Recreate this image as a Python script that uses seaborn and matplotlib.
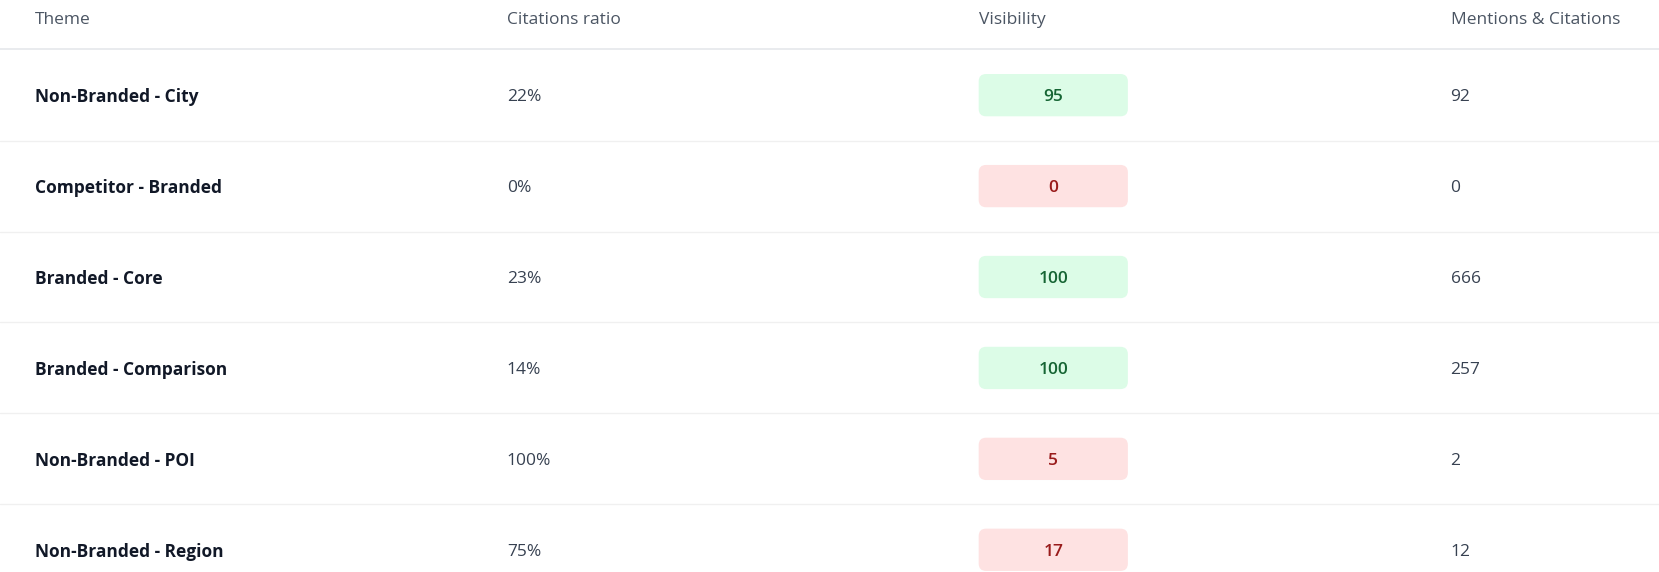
import matplotlib
matplotlib.use("Agg")
import matplotlib.pyplot as plt
import seaborn as sns
from matplotlib.patches import FancyBboxPatch

headers = ["Theme", "Citations ratio", "Visibility", "Mentions & Citations"]
themes = ["Non-Branded - City", "Competitor - Branded", "Branded - Core",
          "Branded - Comparison", "Non-Branded - POI", "Non-Branded - Region"]
citations_ratio = ["22%", "0%", "23%", "14%", "100%", "75%"]
visibility = [95, 0, 100, 100, 5, 17]
mentions = [92, 0, 666, 257, 2, 12]

sns.set_theme(style="white")
plt.rcParams['font.family'] = ['Open Sans', 'DejaVu Sans']

W, H = 1568, 541
fig = plt.figure(figsize=(16.59, 5.72), dpi=100)
ax = fig.add_axes([0, 0, 1, 1])
ax.set_xlim(0, W)
ax.set_ylim(H, 0)
ax.axis("off")

fs = 12.5
colx = [33, 479, 925, 1371]
hc = "#4b5563"
for x, h in zip(colx, headers):
    ax.text(x, 19, h, fontsize=fs, color=hc, va="center", ha="left")
ax.plot([0, W], [46, 46], color="#e5e7eb", lw=1.2)

rowh = 86
for i, (t, c, v, m) in enumerate(zip(themes, citations_ratio, visibility, mentions)):
    yc = 90 + i * rowh
    ty = yc + 2
    if i < len(themes) - 1:
        ax.plot([0, W], [yc + 43, yc + 43], color="#f0f0f0", lw=1)
    ax.text(colx[0], ty, t, fontsize=fs, color="#111827", fontweight="bold", va="center")
    ax.text(colx[1], ty, c, fontsize=fs, color="#374151", va="center")
    good = v >= 50
    fc = "#dcfce7" if good else "#fee2e2"
    tc = "#166534" if good else "#991b1b"
    ax.add_patch(FancyBboxPatch((925, yc - 20), 141, 40,
                                boxstyle="round,pad=0,rounding_size=7",
                                fc=fc, ec="none", mutation_aspect=1))
    ax.text(925 + 70.5, ty, str(v), fontsize=fs, color=tc, fontweight="semibold",
            va="center", ha="center")
    ax.text(colx[3], ty, str(m), fontsize=fs, color="#374151", va="center")

fig.savefig("out.png", dpi=100, facecolor="white")
